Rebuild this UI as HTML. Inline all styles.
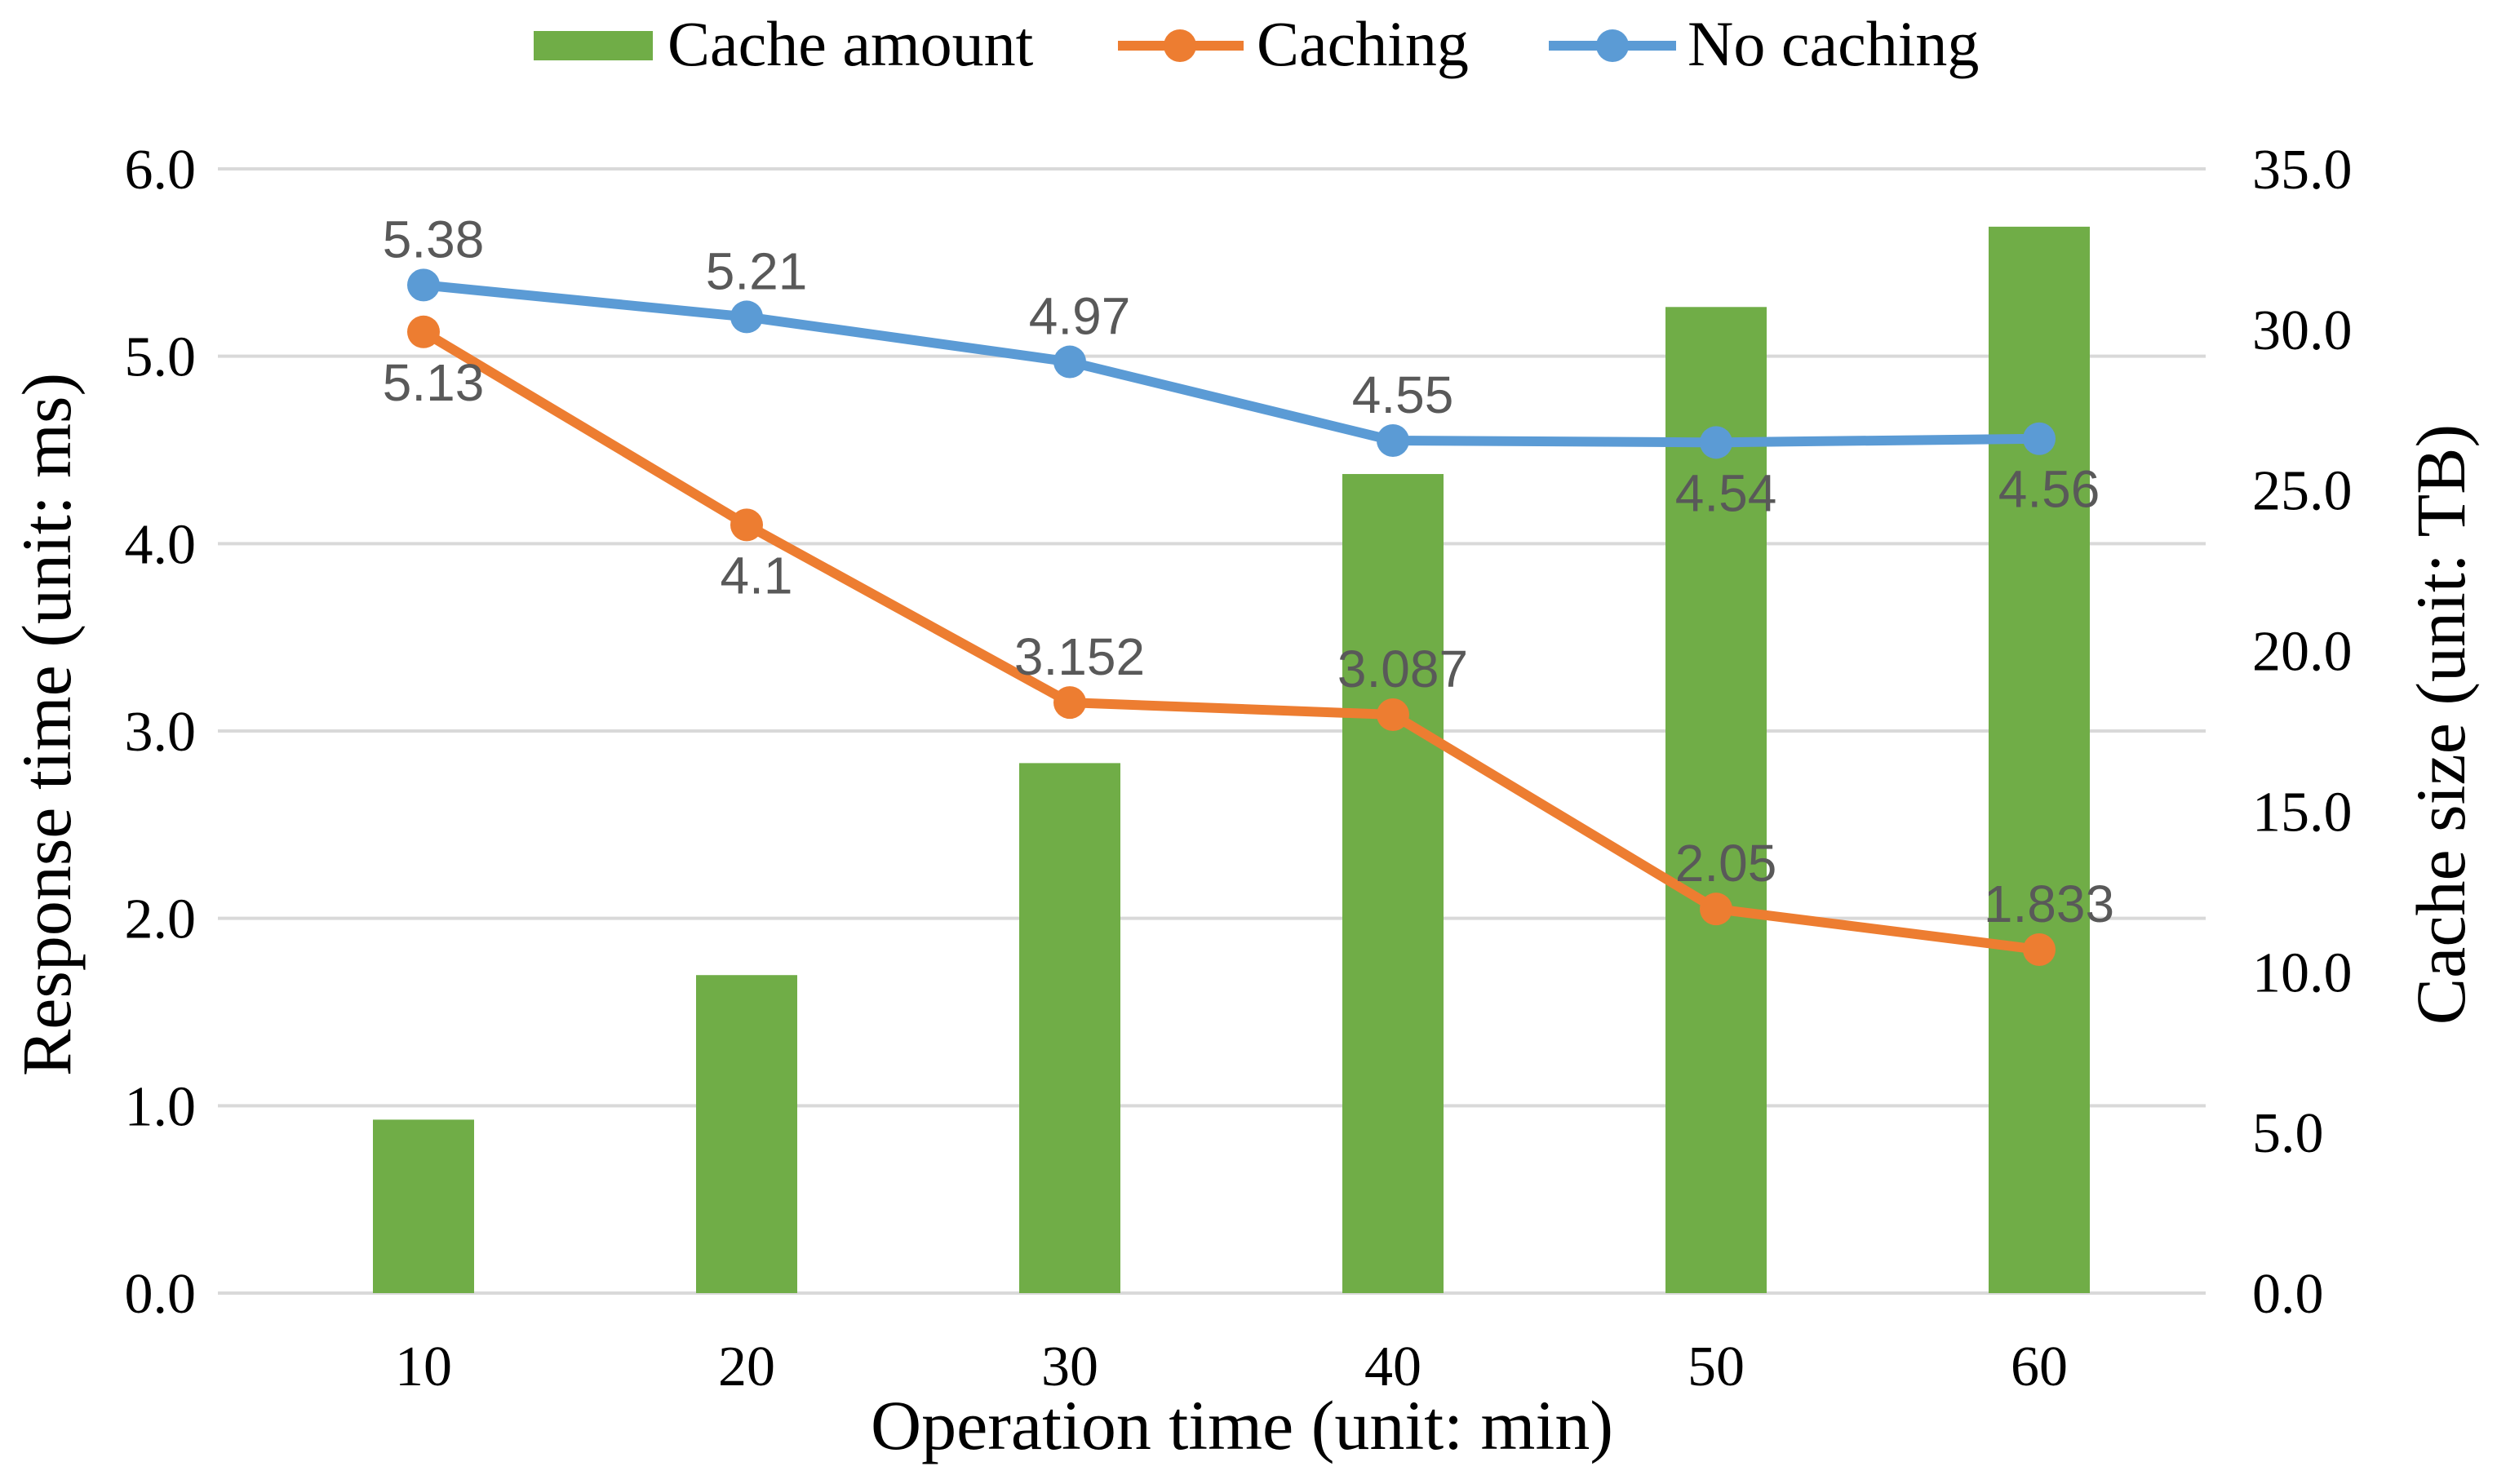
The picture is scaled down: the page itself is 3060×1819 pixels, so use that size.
<!DOCTYPE html>
<html><head><meta charset="utf-8"><style>
html,body{margin:0;padding:0;background:#fff;}
svg{display:block;}
text{font-family:"Liberation Serif",serif;}
.dl{font-family:"Liberation Sans",sans-serif;fill:#595959;font-size:64px;}
</style></head><body>
<svg id="chart" width="3060" height="1819" viewBox="0 0 3060 1819" xmlns="http://www.w3.org/2000/svg">
<g id="grid"></g>
<g id="bars"></g>
<g id="lines"></g>
<g id="labels"></g>
<text x="0" y="0" font-size="86" text-anchor="middle" transform="translate(86,888) rotate(-90)">Response time (unit: ms)</text>
<text x="0" y="0" font-size="86" text-anchor="middle" transform="translate(3020,888) rotate(-90)">Cache size (unit: TB)</text>
<text x="1522" y="1776" font-size="86" text-anchor="middle">Operation time (unit: min)</text>
<g>
<g>
<rect x="654" y="38" width="146" height="36" fill="#70AD47"/>
<text x="818" y="80" font-size="78">Cache amount</text></g>
<g>
<line x1="1370" y1="56" x2="1524" y2="56" stroke="#ED7D31" stroke-width="12"/>
<circle cx="1446" cy="56" r="20" fill="#ED7D31"/>
<text x="1540" y="80" font-size="78">Caching</text></g>
<g>
<line x1="1898" y1="56" x2="2054" y2="56" stroke="#5B9BD5" stroke-width="12"/>
<circle cx="1976" cy="56" r="20" fill="#5B9BD5"/>
<text x="2068" y="80" font-size="78">No caching</text></g>
</g>
</svg>
<script>
const categories = ["10","20","30","40","50","60"];
const cacheAmount = [5.4, 9.9, 16.5, 25.5, 30.7, 33.2];
const caching = [5.13, 4.1, 3.152, 3.087, 2.05, 1.833];
const noCaching = [5.38, 5.21, 4.97, 4.55, 4.54, 4.56];
const cachingLabels = ["5.13","4.1","3.152","3.087","2.05","1.833"];
const noCachingLabels = ["5.38","5.21","4.97","4.55","4.54","4.56"];
const leftTicks = [0,1,2,3,4,5,6];
const rightTicks = [0,5,10,15,20,25,30,35];
const cachingLabelPos = ["below","below","above","above","above","above"];
const noCachingLabelPos = ["above","above","above","above","below","below"];

const NS="http://www.w3.org/2000/svg";
const X0=519, DX=396, Y0=1585, Y6=207;
const x=i=>X0+i*DX;
const yL=v=>Y0-(v/6)*(Y0-Y6);
const yR=v=>Y0-(v/35)*(Y0-Y6);
function mk(tag,attrs,parent,txt){const e=document.createElementNS(NS,tag);for(const k in attrs)e.setAttribute(k,attrs[k]);if(txt!==undefined)e.textContent=txt;parent.appendChild(e);return e;}
const grid=document.getElementById('grid'),bars=document.getElementById('bars'),lines=document.getElementById('lines'),labels=document.getElementById('labels');
leftTicks.forEach(t=>{
  const l=mk('line',{x1:267,x2:2703,y1:yL(t),y2:yL(t),stroke:'#D9D9D9','stroke-width':4},grid);
  
  
  const tx=mk('text',{x:240,y:yL(t)+24,'font-size':70,'text-anchor':'end'},labels,t.toFixed(1));
  
  
});
rightTicks.forEach(t=>{
  const tx=mk('text',{x:2760,y:yR(t)+24,'font-size':70,'text-anchor':'start'},labels,t.toFixed(1));
  
  
});
categories.forEach((c,i)=>{
  const tx=mk('text',{x:x(i),y:1698,'font-size':70,'text-anchor':'middle'},labels,c);
  
  
  const b=mk('rect',{x:x(i)-62,y:yR(cacheAmount[i]),width:124,height:Y0-yR(cacheAmount[i]),fill:'#70AD47'},bars);
  
  
});
function series(vals,lbls,pos,color,name){
  const p=mk('polyline',{points:vals.map((v,i)=>x(i)+','+yL(v)).join(' '),fill:'none',stroke:color,'stroke-width':12,'stroke-linejoin':'round'},lines);
  
  
  vals.forEach((v,i)=>{
    const c=mk('circle',{cx:x(i),cy:yL(v),r:20,fill:color},lines);
    
    
    const ty=pos[i]==='above'?yL(v)-34:yL(v)+84;
    const t=mk('text',{x:x(i)+12,y:ty,'text-anchor':'middle','class':'dl'},labels,lbls[i]);
    
    
  });
}
series(caching,cachingLabels,cachingLabelPos,'#ED7D31','caching');
series(noCaching,noCachingLabels,noCachingLabelPos,'#5B9BD5','no-caching');
</script>
</body></html>
